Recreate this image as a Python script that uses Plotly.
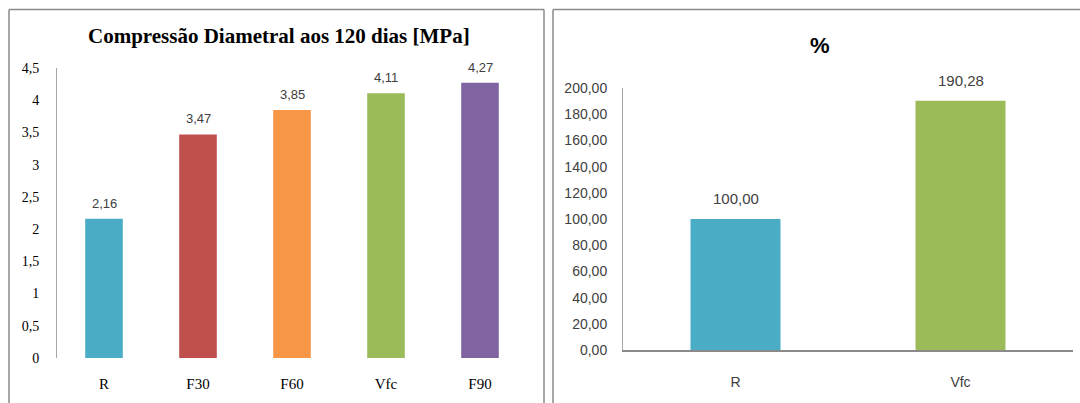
import plotly.graph_objects as go

# ---- data ----
cats_left = ["R", "F30", "F60", "Vfc", "F90"]
vals_left = [2.16, 3.47, 3.85, 4.11, 4.27]
colors_left = ["#4BACC6", "#C0504D", "#F79646", "#9BBB59", "#8064A2"]
ytick_left_vals = [0, 0.5, 1, 1.5, 2, 2.5, 3, 3.5, 4, 4.5]
ytick_left_text = ["0", "0,5", "1", "1,5", "2", "2,5", "3", "3,5", "4", "4,5"]

cats_right = ["R", "Vfc"]
vals_right = [100.00, 190.28]
colors_right = ["#4BACC6", "#9BBB59"]
ytick_right_vals = [0, 20, 40, 60, 80, 100, 120, 140, 160, 180, 200]
ytick_right_text = ["0,00", "20,00", "40,00", "60,00", "80,00", "100,00",
                    "120,00", "140,00", "160,00", "180,00", "200,00"]

title_left = "Compressão Diametral aos 120 dias [MPa]"
title_right = "%"

W, H = 1080, 403
def px(x):
    return x / W
def py(y):
    return (H - y) / H

fig = go.Figure()
fig.add_trace(go.Bar(x=cats_left, y=vals_left, marker=dict(color=colors_left, line=dict(width=0)),
                     xaxis="x", yaxis="y", showlegend=False, hoverinfo="skip"))
fig.add_trace(go.Bar(x=cats_right, y=vals_right, marker=dict(color=colors_right, line=dict(width=0)),
                     xaxis="x2", yaxis="y2", showlegend=False, hoverinfo="skip"))

annotations = []
for c, v in zip(cats_left, vals_left):
    annotations.append(dict(x=c, y=v, xref="x", yref="y", text=f"{v:.2f}".replace(".", ","),
                            showarrow=False, yanchor="bottom", yshift=6,
                            font=dict(family="Liberation Sans Narrow, Liberation Sans", size=13, color="#404040")))
for c, v in zip(cats_right, vals_right):
    annotations.append(dict(x=c, y=v, xref="x2", yref="y2", text=f"{v:.2f}".replace(".", ","),
                            showarrow=False, yanchor="bottom", yshift=10,
                            font=dict(family="Liberation Sans Narrow, Liberation Sans", size=15, color="#404040")))
annotations.append(dict(x=px(279), y=py(36), xref="paper", yref="paper", text=f"<b>{title_left}</b>",
                        showarrow=False, xanchor="center", yanchor="middle",
                        font=dict(family="Liberation Serif", size=21, color="#000000")))
annotations.append(dict(x=px(820), y=py(45), xref="paper", yref="paper", text=f"<b>{title_right}</b>",
                        showarrow=False, xanchor="center", yanchor="middle",
                        font=dict(family="Liberation Sans", size=22, color="#000000")))

border = "#8a8a8a"
shapes = [
    # left panel border
    dict(type="line", xref="paper", yref="paper", x0=px(9), x1=px(9), y0=-0.05, y1=py(9.5), line=dict(color=border, width=1.5)),
    dict(type="line", xref="paper", yref="paper", x0=px(9), x1=px(544), y0=py(9.5), y1=py(9.5), line=dict(color=border, width=1.5)),
    dict(type="line", xref="paper", yref="paper", x0=px(544), x1=px(544), y0=-0.05, y1=py(9.5), line=dict(color=border, width=1.5)),
    # right panel border
    dict(type="line", xref="paper", yref="paper", x0=px(553), x1=px(553), y0=-0.05, y1=py(9.5), line=dict(color=border, width=1.5)),
    dict(type="line", xref="paper", yref="paper", x0=px(553), x1=1.01, y0=py(9.5), y1=py(9.5), line=dict(color=border, width=1.5)),
]

fig.update_layout(
    width=W, height=H, autosize=False,
    margin=dict(l=0, r=0, t=0, b=0, pad=0, autoexpand=False),
    paper_bgcolor="white", plot_bgcolor="white",
    bargap=0.6,
    annotations=annotations, shapes=shapes,
    xaxis=dict(domain=[px(57), px(527)], anchor="y", showgrid=False, showline=False, zeroline=False,
               automargin=False, ticks="", ticklabelstandoff=15,
               tickfont=dict(family="Liberation Serif", size=15, color="#000000")),
    yaxis=dict(domain=[py(358), py(68)], anchor="x", range=[0, 4.5], showgrid=False, zeroline=False,
               automargin=False, showline=True, linecolor="#a6a6a6", linewidth=1,
               tickvals=ytick_left_vals, ticktext=ytick_left_text, ticks="", ticklabelstandoff=14,
               tickfont=dict(family="Liberation Serif", size=14, color="#000000")),
    xaxis2=dict(domain=[px(623), px(1073)], anchor="y2", showgrid=False, zeroline=False,
                automargin=False, showline=True, linecolor="#8a8a8a", linewidth=1.5,
                ticks="", ticklabelstandoff=18,
                tickfont=dict(family="Liberation Sans Narrow, Liberation Sans", size=14, color="#404040")),
    yaxis2=dict(domain=[py(350), py(88)], anchor="x2", range=[0, 200], showgrid=False, zeroline=False,
                automargin=False, showline=True, linecolor="#a6a6a6", linewidth=1,
                tickvals=ytick_right_vals, ticktext=ytick_right_text, ticks="", ticklabelstandoff=12,
                tickfont=dict(family="Liberation Sans Narrow, Liberation Sans", size=14, color="#404040")),
)

fig.write_html("out.html", config={"displayModeBar": False})
